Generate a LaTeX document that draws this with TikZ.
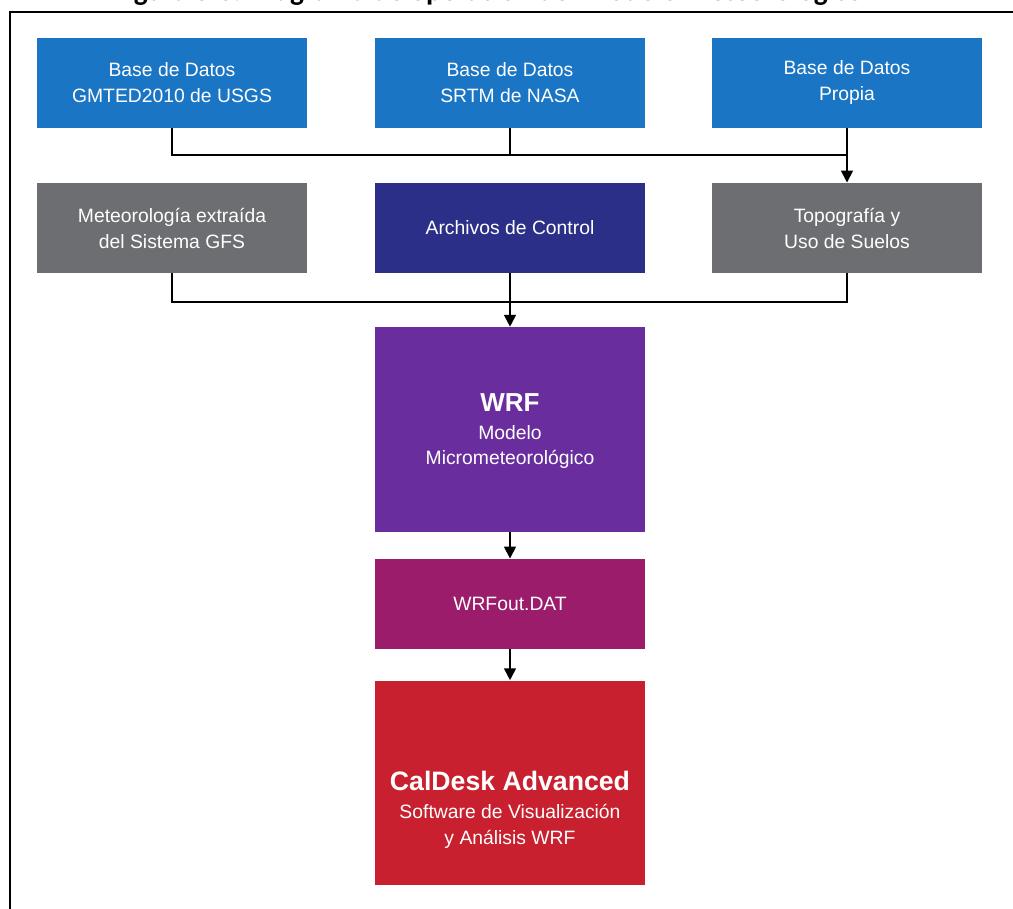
\documentclass[tikz,border=0pt]{standalone}
\usepackage{fontspec}
\setmainfont{Liberation Sans}
\newfontfamily\titlefont{Carlito}
\usetikzlibrary{arrows.meta}
\definecolor{cblue}{HTML}{1A75C4}
\definecolor{cgray}{HTML}{6D6E71}
\definecolor{cnavy}{HTML}{2B2F87}
\definecolor{cpurple}{HTML}{6A2D9E}
\definecolor{cmagenta}{HTML}{9B1C6B}
\definecolor{cred}{HTML}{C8202F}
\begin{document}
\begin{tikzpicture}[x=0.75pt,y=-0.75pt,
  box/.style={rectangle, inner sep=0pt, text=white, align=center,
    minimum width=202.5pt, minimum height=67.5pt,
    font=\fontsize{14.5}{19.5}\selectfont},
  bigbox/.style={box, minimum height=153.5pt},
  boxtext/.style={text=white, align=center, inner sep=0pt,
    font=\fontsize{14.5}{19}\selectfont},
  conn/.style={line width=2.2pt, draw=black},
  arr/.style={conn, -{Triangle[length=9pt,width=8.5pt]}},
  frameline/.style={line width=2pt, draw=black}]
\useasboundingbox (0,0) rectangle (1013,909);
\clip (0,0) rectangle (1013,909);
\fill[white] (0,0) rectangle (1013,909);
% cropped title
\node[anchor=base, inner sep=0pt, font=\titlefont\bfseries\fontsize{22}{26}\selectfont] (title) at (488,1) {Figura 3-6. Diagrama de operación del Modelo Meteorológico};
% frame
\draw[frameline] (10,909) -- (10,12) -- (1013,12);
% row 1
\node[box, fill=cblue] (b1) at (172,83) {Base de Datos\\GMTED2010 de USGS};
\node[box, fill=cblue] (b2) at (510,83) {Base de Datos\\SRTM de NASA};
\node[box, fill=cblue] (b3) at (847,83) {Base de Datos\\Propia};
% row 2
\node[box, fill=cgray] (g1) at (172,228) {Meteorología extraída\\del Sistema GFS};
\node[box, fill=cnavy] (ctrl) at (510,228) {Archivos de Control};
\node[box, fill=cgray] (g3) at (847,228) {Topografía y\\Uso de Suelos};
% WRF
\node[bigbox, fill=cpurple] (wrf) at (510,429.5) {};
\node[boxtext] (wrftext) at (510,431) {{\bfseries\fontsize{19.5}{19}\selectfont WRF}\\[2pt]Modelo\\Micrometeorológico};
% WRFout
\node[box, fill=cmagenta] (out) at (510,604) {WRFout.DAT};
% CalDesk
\node[bigbox, fill=cred] (cal) at (510,783) {};
\node[boxtext] (caltext) at (510,810) {{\bfseries\fontsize{20}{19}\selectfont CalDesk Advanced}\\[2pt]Software de Visualización\\y Análisis WRF};
% connectors row 1
\coordinate (j1) at (847,155);
\draw[conn] (b1.south) |- (j1);
\draw[conn] (b2.south) -- (b2.south |- j1);
\draw[arr] (b3.south) -- (g3.north);
% connectors row 2
\coordinate (j2) at (847,302);
\draw[conn] (g1.south) |- (j2) -- (g3.south);
\draw[arr] (ctrl.south) -- (wrf.north);
% vertical chain
\draw[arr] (wrf.south) -- (out.north);
\draw[arr] (out.south) -- (cal.north);
\end{tikzpicture}
\end{document}
